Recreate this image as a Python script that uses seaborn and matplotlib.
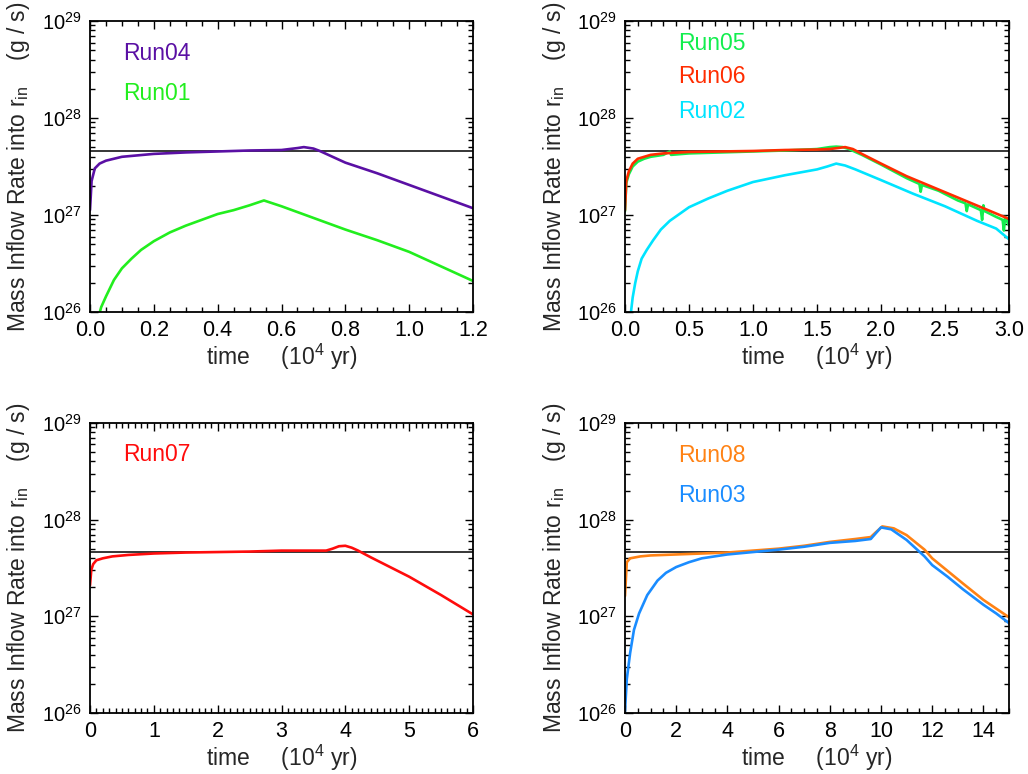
import numpy as np
import pandas as pd
import matplotlib
matplotlib.use("Agg")
import matplotlib.pyplot as plt
import matplotlib.ticker as mticker
import seaborn as sns

# ---- data: time in 10^4 yr, log10 of mass inflow rate (g/s) ----
run04_t = [0, 0.005, 0.015, 0.03, 0.05, 0.1, 0.2, 0.3, 0.4, 0.5, 0.6, 0.65, 0.67, 0.7,
           0.72, 0.8, 0.9, 1.0, 1.1, 1.2]
run04_log = [27.05, 27.35, 27.48, 27.53, 27.56, 27.60, 27.63, 27.645, 27.655, 27.665,
             27.67, 27.69, 27.70, 27.685, 27.66, 27.54, 27.43, 27.31, 27.19, 27.07]

run01_t = [0.025, 0.035, 0.05, 0.075, 0.1, 0.13, 0.16, 0.2, 0.25, 0.3, 0.35, 0.4, 0.45,
           0.5, 0.545, 0.6, 0.7, 0.8, 0.9, 1.0, 1.1, 1.2]
run01_log = [25.93, 26.05, 26.16, 26.33, 26.45, 26.55, 26.64, 26.73, 26.82, 26.89, 26.95,
             27.01, 27.05, 27.10, 27.15, 27.09, 26.97, 26.85, 26.74, 26.62, 26.47, 26.32]

run05_t = [0, 0.01, 0.03, 0.06, 0.1, 0.15, 0.2, 0.3, 0.35, 0.36, 0.5, 0.75, 1.0, 1.25,
           1.5, 1.6, 1.65, 1.7, 1.75, 1.85, 2.0, 2.2, 2.3, 2.31, 2.32, 2.45, 2.6, 2.66,
           2.67, 2.68, 2.78, 2.79, 2.8, 2.81, 2.9, 2.95, 2.96, 2.97, 3.0]
run05_log = [27.04, 27.33, 27.42, 27.50, 27.55, 27.58, 27.60, 27.62, 27.655, 27.62,
             27.635, 27.645, 27.655, 27.665, 27.68, 27.70, 27.705, 27.70, 27.68, 27.62,
             27.52, 27.38, 27.32, 27.24, 27.31, 27.25, 27.15, 27.12, 27.04, 27.11, 27.05,
             26.95, 27.10, 27.04, 26.98, 26.95, 26.84, 26.98, 26.89]

run06_t = [0, 0.01, 0.03, 0.06, 0.1, 0.2, 0.3, 0.5, 0.75, 1.0, 1.25, 1.5, 1.6, 1.66,
           1.72, 1.78, 1.85, 2.0, 2.2, 2.4, 2.6, 2.8, 3.0]
run06_log = [27.05, 27.35, 27.45, 27.53, 27.58, 27.62, 27.635, 27.65, 27.655, 27.66,
             27.67, 27.675, 27.68, 27.69, 27.70, 27.68, 27.63, 27.53, 27.40, 27.29,
             27.18, 27.07, 26.96]

run02_t = [0.045, 0.06, 0.08, 0.1, 0.13, 0.17, 0.22, 0.28, 0.35, 0.5, 0.65, 0.8, 1.0,
           1.25, 1.5, 1.58, 1.65, 1.72, 1.8, 2.0, 2.25, 2.5, 2.75, 2.9, 3.0]
run02_log = [25.98, 26.15, 26.30, 26.42, 26.55, 26.64, 26.74, 26.85, 26.94, 27.08,
             27.17, 27.25, 27.34, 27.41, 27.47, 27.50, 27.53, 27.51, 27.47, 27.36,
             27.22, 27.09, 26.94, 26.86, 26.75]

run07_t = [0, 0.02, 0.05, 0.1, 0.2, 0.35, 0.6, 1.0, 1.5, 2.0, 2.5, 3.0, 3.4, 3.7, 3.8,
           3.9, 4.0, 4.1, 4.2, 4.4, 4.7, 5.0, 5.5, 6.0]
run07_log = [27.32, 27.48, 27.54, 27.58, 27.60, 27.62, 27.635, 27.65, 27.66, 27.665,
             27.67, 27.68, 27.68, 27.68, 27.70, 27.725, 27.73, 27.71, 27.68, 27.61,
             27.51, 27.41, 27.22, 27.02]

run08_t = [0, 0.07, 0.2, 0.6, 1.0, 2.0, 3.0, 4.0, 5.0, 6.0, 7.0, 8.0, 9.0, 9.6, 9.8,
           10.05, 10.5, 11.0, 11.7, 12.0, 12.6, 13.2, 14.0, 14.5, 15.0]
run08_log = [27.21, 27.56, 27.60, 27.62, 27.63, 27.64, 27.65, 27.66, 27.68, 27.70,
             27.73, 27.77, 27.80, 27.82, 27.87, 27.93, 27.91, 27.84, 27.69, 27.60,
             27.47, 27.34, 27.17, 27.08, 26.99]

run03_t = [0, 0.07, 0.2, 0.35, 0.55, 0.87, 1.27, 1.6, 2.0, 2.5, 3.0, 4.0, 5.0, 6.0,
           7.0, 8.0, 9.0, 9.6, 9.8, 10.0, 10.4, 11.0, 11.7, 12.0, 12.6, 13.2, 14.0,
           14.5, 15.0]
run03_log = [26.02, 26.35, 26.62, 26.86, 27.03, 27.22, 27.37, 27.45, 27.51, 27.56,
             27.60, 27.64, 27.665, 27.69, 27.72, 27.76, 27.78, 27.80, 27.86, 27.92,
             27.90, 27.79, 27.62, 27.53, 27.41, 27.28, 27.12, 27.03, 26.93]

reference_rate = 4.62e27

sns.set_theme(style="ticks")
plt.rcParams.update({
    "font.family": ["Liberation Sans", "DejaVu Sans"],
    "mathtext.fontset": "custom",
    "mathtext.rm": "Liberation Sans",
    "mathtext.it": "Liberation Sans:italic",
    "mathtext.bf": "Liberation Sans:bold",
    "axes.linewidth": 1.3,
    "axes.edgecolor": "black",
    "xtick.color": "black",
    "ytick.color": "black",
})

fig = plt.figure(figsize=(10.28, 7.74), dpi=100)
W, H = 1028, 774


def make_axes(left_px, top_px, right_px, bottom_px):
    return fig.add_axes([left_px / W, 1 - bottom_px / H,
                         (right_px - left_px) / W, (bottom_px - top_px) / H])


panels = [
    dict(box=(90, 21, 473, 312), xmax=1.2, major=0.2, minor=0.05, fmt="%.1f",
         series=[(run04_t, run04_log, "#5a10a4", "Run04", 0.866),
                 (run01_t, run01_log, "#22ee1e", "Run01", 0.729)]),
    dict(box=(625, 21, 1009, 312), xmax=3.0, major=0.5, minor=0.1, fmt="%.1f",
         series=[(run02_t, run02_log, "#00e4ff", "Run02", 0.667),
                 (run05_t, run05_log, "#12ee4e", "Run05", 0.900),
                 (run06_t, run06_log, "#ff2c00", "Run06", 0.787)]),
    dict(box=(90, 423, 473, 713), xmax=6, major=1, minor=0.1, fmt="%d",
         series=[(run07_t, run07_log, "#ff0c0c", "Run07", 0.869)]),
    dict(box=(625, 423, 1009, 713), xmax=15, major=2, minor=0.5, fmt="%d",
         series=[(run08_t, run08_log, "#ff8214", "Run08", 0.866),
                 (run03_t, run03_log, "#1a8cff", "Run03", 0.728)]),
]

for p in panels:
    l, t, r, b = p["box"]
    ax = make_axes(l, t, r, b)
    for tt, lg, col, name, ty in p["series"]:
        df = pd.DataFrame({"time": tt, "rate": 10.0 ** np.asarray(lg)})
        sns.lineplot(data=df, x="time", y="rate", ax=ax, color=col, lw=1.9,
                     sort=False, estimator=None)
        ax.text(0.086 if l < 500 else 0.138, ty, name, transform=ax.transAxes,
                color=col, fontsize=16.5, ha="left", va="baseline")
    ax.axhline(reference_rate, color="black", lw=1.1, zorder=1)
    ax.set_yscale("log")
    ax.set_ylim(1e26, 1e29)
    ax.set_xlim(0, p["xmax"])
    ax.yaxis.set_major_locator(mticker.FixedLocator([1e26, 1e27, 1e28, 1e29]))
    ax.yaxis.set_minor_locator(mticker.LogLocator(base=10, subs=np.arange(2, 10)))
    ax.yaxis.set_major_formatter(mticker.FuncFormatter(
        lambda v, pos: r"$\mathregular{10^{%d}}$" % round(np.log10(v))))
    ax.yaxis.set_minor_formatter(mticker.NullFormatter())
    ax.xaxis.set_major_locator(mticker.MultipleLocator(p["major"]))
    ax.xaxis.set_minor_locator(mticker.MultipleLocator(p["minor"]))
    ax.xaxis.set_major_formatter(mticker.FormatStrFormatter(p["fmt"]))
    ax.tick_params(which="both", direction="in", top=True, right=True, width=1.0)
    ax.tick_params(axis="x", which="both", pad=6, labelsize=15.5)
    ax.tick_params(axis="y", which="both", pad=6, labelsize=14.5)
    ax.tick_params(which="major", length=6)
    ax.tick_params(which="minor", length=3.5)
    ax.set_xlabel("")
    ax.set_ylabel("")
    for s in ax.spines.values():
        s.set_visible(True)
        s.set_linewidth(1.3)
    # axis titles
    fig.text((l + (r - l) / 2) / W, 1 - (b + 45) / H,
             r"time     (10$^{\mathregular{4}}$ yr)", ha="center", va="center",
             fontsize=16.5)
    fig.text((l - 71) / W, 1 - (t + (b - t) / 2) / H,
             r"Mass Inflow Rate into r$_{\mathregular{in}}$    (g / s)",
             ha="center", va="center", rotation=90, fontsize=16.5)

fig.savefig("out.png", dpi=100, facecolor="white")
